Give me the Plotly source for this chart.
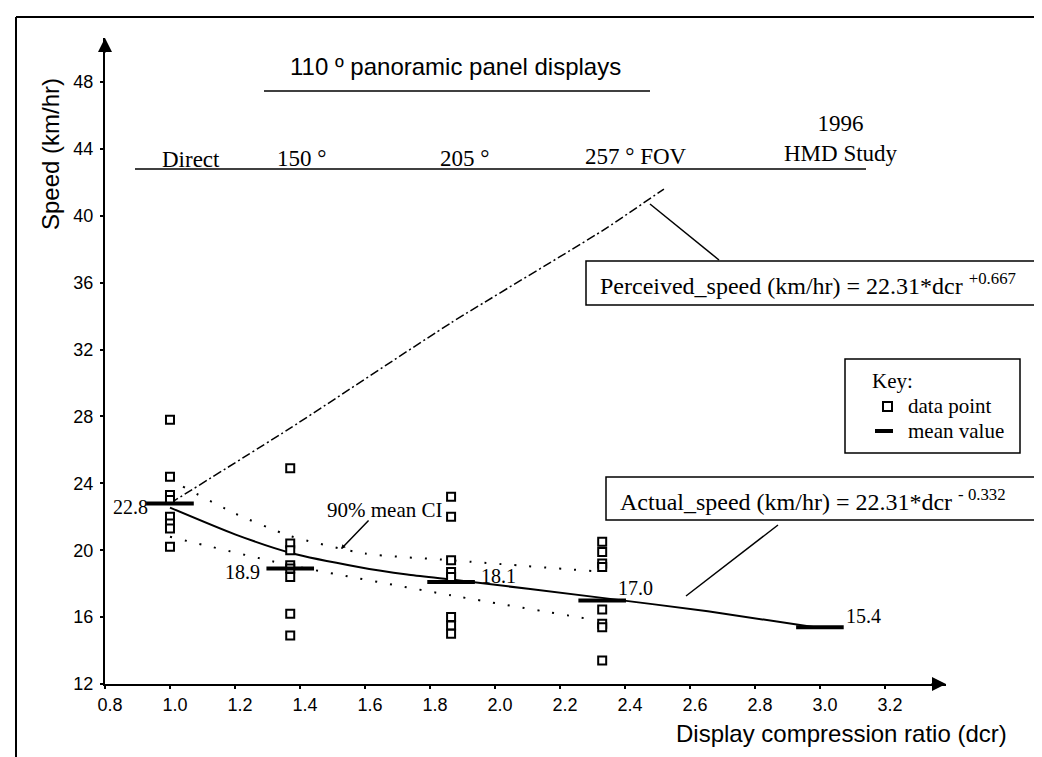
import plotly.graph_objects as go

# ---------------- data ----------------
x_ticks = [0.8, 1.0, 1.2, 1.4, 1.6, 1.8, 2.0, 2.2, 2.4, 2.6, 2.8, 3.0, 3.2]
y_ticks = [12, 16, 20, 24, 28, 32, 36, 40, 44, 48]

group_dcr = [1.0, 1.37, 1.865, 2.33]
speeds_dcr_100 = [27.8, 24.4, 23.3, 23.0, 22.0, 21.6, 21.3, 20.2]
speeds_dcr_137 = [24.9, 20.4, 20.0, 19.1, 18.9, 18.4, 16.2, 14.9]
speeds_dcr_186 = [23.2, 22.0, 19.4, 18.7, 18.4, 16.0, 15.5, 15.0]
speeds_dcr_233 = [20.5, 19.9, 19.2, 19.0, 16.45, 15.6, 15.4, 13.4]

mean_dcr = [1.0, 1.37, 1.865, 2.33, 3.0]
mean_speed = [22.8, 18.9, 18.1, 17.0, 15.4]
mean_labels = ["22.8", "18.9", "18.1", "17.0", "15.4"]

actual_x = [1.0, 1.2, 1.37, 1.58, 1.73, 1.865, 2.33, 2.655, 3.0]
actual_y = [22.55, 20.95, 19.85, 19.0, 18.55, 18.25, 17.15, 16.35, 15.35]

perceived_x = [1.0, 1.37, 1.865, 2.33, 2.52]
perceived_y = [22.8, 27.3, 33.6, 39.1, 41.6]

ci_upper_x = [1.04, 1.2, 1.37, 1.6, 1.865, 2.3]
ci_upper_y = [23.8, 22.2, 20.85, 19.8, 19.4, 18.75]
ci_lower_x = [1.0, 1.37, 1.865, 2.3]
ci_lower_y = [20.8, 19.1, 17.3, 15.85]

# ---------------- layout geometry ----------------
W, H = 1042, 757
ML, MR, MT, MB = 97, 104, 30, 81
X_RANGE = [0.8, 3.388]
Y_RANGE = [12, 50.63]
PW, PH = W - ML - MR, H - MT - MB

SANS = "Liberation Sans, Arial, Helvetica, sans-serif"
SERIF = "Liberation Serif, Times New Roman, serif"


def px(xp):
    return (xp - ML) / PW


def py(yp):
    return (H - MB - yp) / PH


fig = go.Figure()

# fitted curves and CI
fig.add_trace(go.Scatter(x=perceived_x, y=perceived_y, mode="lines",
                         line=dict(color="black", width=1.5, dash="9px,3px,2px,3px", shape="spline", smoothing=0.5),
                         hoverinfo="skip"))
fig.add_trace(go.Scatter(x=ci_upper_x, y=ci_upper_y, mode="lines",
                         line=dict(color="black", width=2, dash="2px,13px", shape="spline", smoothing=0.6),
                         hoverinfo="skip"))
fig.add_trace(go.Scatter(x=ci_lower_x, y=ci_lower_y, mode="lines",
                         line=dict(color="black", width=2, dash="2px,13px", shape="spline", smoothing=0.5),
                         hoverinfo="skip"))
fig.add_trace(go.Scatter(x=actual_x, y=actual_y, mode="lines",
                         line=dict(color="black", width=2, shape="spline", smoothing=0.6),
                         hoverinfo="skip"))

# data points
for gx, vals in zip(group_dcr, [speeds_dcr_100, speeds_dcr_137, speeds_dcr_186, speeds_dcr_233]):
    fig.add_trace(go.Scatter(x=[gx] * len(vals), y=vals, mode="markers",
                             marker=dict(symbol="square", size=8, color="white",
                                         line=dict(color="black", width=2))))

# mean values
fig.add_trace(go.Scatter(x=mean_dcr, y=mean_speed, mode="markers",
                         marker=dict(symbol="line-ew", size=34, color="black",
                                     line=dict(color="black", width=4))))

# axis arrowheads
fig.add_annotation(x=X_RANGE[1], y=Y_RANGE[0], ax=-16, ay=0, xref="x", yref="y",
                   showarrow=True, arrowhead=2, arrowsize=1.4, arrowwidth=2, arrowcolor="black", text="")
fig.add_annotation(x=X_RANGE[0], y=Y_RANGE[1], ax=0, ay=16, xref="x", yref="y",
                   showarrow=True, arrowhead=2, arrowsize=1.4, arrowwidth=2, arrowcolor="black", text="")

# mean labels
label_offsets = [("right", -20, -4), ("right", -28, -3), ("left", 28, 6), ("left", 14, 12), ("left", 24, 11)]
for mx, my, lab, (anc, dx, dy) in zip(mean_dcr, mean_speed, mean_labels, label_offsets):
    fig.add_annotation(x=mx, y=my, text=lab, showarrow=False, xanchor=anc, yanchor="middle",
                       xshift=dx, yshift=dy, font=dict(family=SERIF, size=20, color="black"))


def text(xp, yp, s, font, size, anchor="center", angle=0):
    fig.add_annotation(x=px(xp), y=py(yp), xref="paper", yref="paper", text=s, showarrow=False,
                       xanchor=anchor, yanchor="middle", textangle=angle,
                       font=dict(family=font, size=size, color="black"))


def line(x0, y0, x1, y1, w=1.5):
    fig.add_shape(type="line", xref="paper", yref="paper", x0=px(x0), y0=py(y0), x1=px(x1), y1=py(y1),
                  line=dict(color="black", width=w))


def rect(x0, y0, x1, y1, w=1.5, fill=None):
    fig.add_shape(type="rect", xref="paper", yref="paper", x0=px(x0), y0=py(y0), x1=px(x1), y1=py(y1),
                  line=dict(color="black", width=w), fillcolor=fill)


# axis titles
text(43, 146, "Speed (km/hr)", SANS, 24, angle=-90)
text(833, 725, "Display compression ratio (dcr)", SANS, 24)

# header
text(447, 59, "110 º panoramic panel displays", SANS, 24)
line(256, 83, 642, 83)
text(183, 152, "Direct", SERIF, 23)
text(293, 150, "150 °", SERIF, 23)
text(456, 150, "205 °", SERIF, 23)
text(628, 148, "257 ° FOV", SERIF, 23)
text(833, 130, "1996<br>HMD Study", SERIF, 23)
line(127, 161, 858, 161)

# equation boxes
rect(578, 253, 1028, 297)
text(590, 276, "Perceived_speed (km/hr) = 22.31*dcr <sup>+0.667</sup>", SERIF, 24, anchor="left")
line(642, 196, 711, 252, 1.5)

rect(598, 469, 1028, 512)
text(610, 492, "Actual_speed (km/hr) = 22.31*dcr <sup>- 0.332</sup>", SERIF, 24, anchor="left")
line(678, 588, 770, 517, 1.5)

# CI label
text(317, 502, "90% mean CI", SERIF, 21, anchor="left")
fig.add_annotation(x=px(333), y=py(541), ax=29, ay=-30, xref="paper", yref="paper",
                   showarrow=True, arrowhead=2, arrowsize=0.6,
                   arrowwidth=1.5, arrowcolor="black", text="")

# key box
rect(837, 351, 1012, 445)
text(862, 373, "Key:", SERIF, 21, anchor="left")
rect(875, 394, 884, 403, w=2)
text(898, 398, "data point", SERIF, 21, anchor="left")
line(867, 423, 885, 423, 4)
text(898, 423, "mean value", SERIF, 21, anchor="left")

# outer frame
line(8, 9, 1038, 9, 2)
line(8, 9, 8, 757, 2)
line(1038, 9, 1038, 757, 2)

fig.update_layout(
    width=W, height=H, showlegend=False,
    margin=dict(l=ML, r=MR, t=MT, b=MB, pad=0),
    paper_bgcolor="white", plot_bgcolor="white",
    xaxis=dict(range=X_RANGE, tickvals=x_ticks, tickformat=".1f", showgrid=False, zeroline=False,
               showline=True, linecolor="black", linewidth=2, ticks="outside", ticklen=3, tickwidth=2,
               tickcolor="black", ticklabelshift=5,
               tickfont=dict(family=SANS, size=18, color="black")),
    yaxis=dict(range=Y_RANGE, tickvals=y_ticks, showgrid=False, zeroline=False,
               showline=True, linecolor="black", linewidth=2, ticks="outside", ticklen=3, tickwidth=2,
               tickcolor="black", ticklabelstandoff=3,
               tickfont=dict(family=SANS, size=18, color="black")),
)

fig.write_html("out.html")
